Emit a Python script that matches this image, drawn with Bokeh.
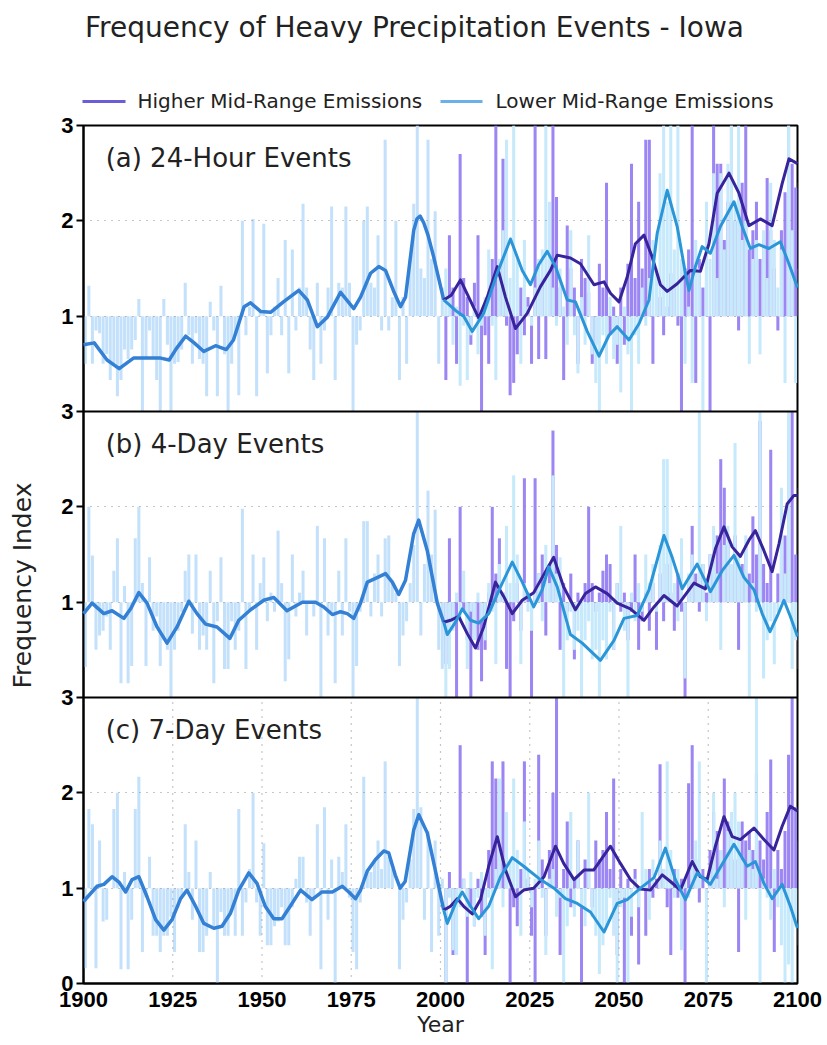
import math
from bokeh.plotting import figure
from bokeh.models import Range1d, FixedTicker, Label, Arrow, ColumnDataSource
from bokeh.layouts import column, row
from bokeh.embed import file_html
from bokeh.resources import INLINE

# ---------------- data ----------------
HIST_YEARS = list(range(1900, 2001))
FUT_YEARS = list(range(2001, 2101))
X_TICKS = [1900, 1925, 1950, 1975, 2000, 2025, 2050, 2075, 2100]

TITLE = "Frequency of Heavy Precipitation Events - Iowa"
SERIES_NAMES = ["Higher Mid-Range Emissions", "Lower Mid-Range Emissions"]
PANEL_NAMES = ["(a) 24-Hour Events", "(b) 4-Day Events", "(c) 7-Day Events"]

# yearly index values, historical 1900-2000
hist_a = [0.50, 1.32, 0.50, 0.85, 0.82, 0.50, 0.60, 0.33, 0.50, 0.16,
          0.33, 0.65, 0.55, 0.65, 0.75, 1.18, 0.00, 0.55, 0.85, 0.55,
          0.33, 0.00, 1.18, 0.70, 0.00, 0.50, 0.52, 0.65, 1.35, 0.80,
          0.50, 0.82, 0.55, 0.50, 0.16, 1.15, 0.85, 0.16, 1.32, 0.60,
          0.00, 0.50, 0.80, 0.17, 2.00, 0.80, 1.10, 2.02, 0.16, 1.05,
          1.97, 0.40, 0.80, 1.10, 1.40, 0.80, 1.80, 0.40, 1.70, 0.85,
          1.30, 2.18, 1.30, 0.65, 0.33, 1.35, 0.50, 0.85, 1.30, 2.15,
          0.33, 1.35, 1.30, 2.15, 1.35, 0.00, 0.70, 0.85, 2.00, 2.15,
          1.35, 1.30, 1.85, 0.85, 2.85, 0.85, 1.20, 2.00, 0.33, 1.20,
          0.50, 1.60, 2.18, 3.20, 1.50, 1.40, 2.85, 1.60, 2.10, 0.50,
          1.30]
hist_b = [0.32, 2.00, 1.49, 0.50, 0.65, 0.70, 0.85, 0.50, 1.33, 1.67,
          0.15, 1.17, 0.15, 0.33, 1.67, 2.00, 1.20, 0.33, 1.47, 0.70,
          0.85, 0.33, 0.60, 0.50, 0.00, 0.50, 0.70, 0.90, 1.33, 1.50,
          0.67, 1.50, 0.50, 0.65, 0.50, 1.33, 0.15, 0.80, 1.47, 0.30,
          0.30, 0.80, 0.50, 0.70, 1.98, 0.30, 0.90, 1.50, 0.50, 1.20,
          1.47, 0.80, 1.10, 0.90, 1.75, 1.20, 0.17, 0.40, 1.50, 0.85,
          1.10, 1.33, 0.65, 1.00, 0.85, 1.80, 0.00, 1.67, 0.65, 0.90,
          0.15, 1.33, 0.65, 1.67, 0.90, 0.00, 0.33, 0.90, 1.85, 1.85,
          0.85, 1.30, 1.50, 0.85, 1.67, 1.70, 1.20, 1.10, 0.33, 0.65,
          0.80, 1.20, 1.60, 3.20, 0.65, 1.40, 2.17, 1.50, 1.97, 0.50,
          0.30]
hist_c = [0.16, 1.83, 1.67, 0.16, 1.50, 0.65, 0.67, 1.00, 1.83, 2.00,
          0.15, 1.17, 0.15, 0.67, 1.83, 2.17, 0.33, 0.90, 1.33, 0.50,
          0.50, 0.33, 0.50, 0.50, 0.70, 0.33, 0.80, 0.90, 1.67, 1.17,
          0.67, 1.50, 0.33, 0.33, 0.50, 1.17, 0.60, 0.00, 0.75, 0.50,
          0.50, 0.80, 0.50, 1.83, 0.50, 0.85, 1.20, 2.00, 0.85, 0.50,
          1.47, 0.40, 0.40, 0.60, 0.65, 0.80, 0.40, 0.40, 0.80, 1.10,
          1.33, 1.33, 0.85, 0.50, 0.90, 1.67, 0.15, 1.85, 0.67, 1.30,
          0.00, 1.33, 1.17, 1.67, 0.90, 0.33, 0.15, 0.85, 2.17, 1.20,
          1.17, 1.30, 1.50, 1.20, 2.33, 1.33, 1.20, 1.00, 0.15, 0.67,
          0.85, 1.30, 1.83, 3.20, 1.85, 0.67, 1.60, 0.33, 1.50, 0.50,
          1.10]

# yearly index values, scenarios 2001-2100
higher_a = [0.33, 1.85, 1.30, 0.50, 2.70, 1.40, 1.20, 0.70, 1.35, 1.85,
            0.00, 0.80, 0.50, 1.60, 3.20, 1.30, 2.65, 0.90, 0.17, 0.30,
            0.60, 1.30, 0.80, 1.20, 0.50, 3.20, 0.55, 1.40, 0.55, 1.60,
            3.20, 2.25, 1.30, 0.33, 1.95, 1.50, 1.30, 0.50, 1.60, 1.40,
            1.25, 0.50, 0.70, 1.55, 1.30, 2.40, 0.80, 1.10, 0.50, 1.30,
            0.70, 1.55, 2.60, 1.40, 2.20, 1.50, 2.85, 2.85, 0.50, 1.40,
            1.20, 0.80, 1.10, 1.45, 1.30, 0.90, 0.00, 1.50, 1.70, 3.20,
            0.30, 1.60, 1.30, 1.50, 0.00, 3.20, 2.60, 2.60, 1.80, 2.20,
            3.20, 2.00, 0.85, 2.40, 3.20, 1.70, 1.90, 2.20, 1.60, 1.80,
            2.45, 1.90, 1.50, 0.85, 1.90, 2.30, 3.20, 2.60, 2.35, 2.40]
lower_a = [1.50, 1.20, 0.70, 1.10, 0.27, 0.90, 0.33, 0.80, 1.10, 0.60,
           0.90, 1.20, 1.70, 0.90, 0.33, 1.60, 1.90, 2.85, 1.40, 3.20,
           1.60, 0.50, 1.80, 1.10, 0.90, 1.30, 1.60, 1.70, 3.20, 2.20,
           1.30, 0.90, 1.50, 1.10, 0.70, 1.90, 0.80, 0.40, 1.20, 0.70,
           1.85, 0.60, 0.30, 0.00, 0.80, 0.50, 1.20, 0.55, 0.70, 0.20,
           1.10, 0.60, 0.00, 0.80, 0.50, 1.30, 0.90, 1.40, 1.80, 1.50,
           2.50, 3.20, 2.20, 3.20, 1.70, 3.20, 1.60, 0.50, 1.10, 0.30,
           1.80, 1.50, 0.00, 2.20, 1.60, 2.50, 1.40, 2.50, 1.70, 2.60,
           3.20, 2.20, 3.20, 1.80, 2.00, 0.50, 1.60, 1.80, 0.60, 1.90,
           1.40, 2.40, 1.80, 1.30, 1.70, 0.30, 3.20, 1.90, 0.30, 1.50]
higher_b = [0.35, 1.67, 0.80, 0.00, 2.00, 0.90, 0.60, 0.00, 0.70, 0.50,
            0.17, 0.50, 1.10, 2.00, 1.30, 1.67, 1.10, 0.30, 0.00, 0.80,
            1.20, 0.70, 2.30, 1.10, 0.00, 2.30, 1.30, 1.50, 0.65, 1.40,
            2.80, 1.60, 0.50, 1.20, 0.90, 1.30, 0.40, 1.10, 0.35, 1.20,
            2.00, 1.20, 0.90, 1.10, 1.33, 1.50, 1.40, 0.50, 1.20, 0.90,
            1.10, 0.60, 0.90, 1.50, 0.50, 0.80, 1.10, 0.70, 1.20, 0.50,
            1.30, 0.80, 1.40, 1.10, 0.70, 1.30, 0.90, 0.00, 1.20, 1.80,
            1.30, 0.90, 1.40, 1.10, 1.50, 1.30, 1.70, 2.50, 2.20, 1.60,
            1.30, 1.70, 0.50, 1.40, 1.60, 1.30, 1.90, 1.50, 2.90, 1.40,
            1.20, 2.60, 1.00, 1.30, 1.50, 1.70, 2.70, 3.20, 1.50, 2.20]
lower_b = [0.00, 0.30, 0.70, 1.10, 0.80, 1.33, 0.30, 0.90, 0.60, 1.10,
           0.80, 0.60, 1.20, 0.90, 0.35, 1.40, 1.10, 1.80, 1.20, 2.33,
           1.50, 0.35, 1.20, 0.90, 0.70, 1.10, 1.30, 0.80, 1.60, 1.20,
           2.33, 1.30, 1.47, 0.00, 0.60, 0.90, 0.50, 0.70, 0.00, 0.60,
           0.80, 0.40, 0.50, 0.00, 0.60, 0.40, 0.90, 0.50, 1.20, 1.80,
           0.70, 0.00, 1.10, 0.80, 1.20, 0.90, 1.50, 1.20, 1.40, 0.90,
           1.60, 2.50, 2.50, 1.50, 1.20, 0.80, 1.67, 0.20, 1.30, 1.50,
           1.20, 3.20, 1.40, 0.80, 1.50, 1.80, 1.30, 0.50, 1.60, 1.80,
           1.40, 2.67, 1.50, 1.30, 1.70, 0.00, 1.20, 0.90, 3.20, 0.20,
           0.60, 0.80, 0.35, 0.90, 2.20, 1.30, 3.20, 0.30, 0.60, 0.30]
higher_c = [0.00, 1.17, 0.30, 0.90, 2.50, 1.10, 0.00, 0.80, 0.60, 1.10,
            0.70, 0.30, 1.40, 2.33, 2.15, 1.30, 2.33, 1.20, 0.00, 0.80,
            0.60, 1.20, 2.33, 1.10, 0.50, 0.00, 2.40, 1.30, 0.50, 1.40,
            2.00, 3.20, 0.30, 1.20, 1.70, 0.80, 1.10, 1.50, 0.00, 1.30,
            1.20, 0.80, 1.50, 1.30, 1.40, 1.80, 1.20, 2.15, 0.30, 1.20,
            0.00, 1.10, 0.50, 1.20, 0.20, 1.00, 0.50, 1.20, 0.90, 1.10,
            2.30, 1.20, 0.80, 0.30, 1.20, 0.90, 1.10, 0.00, 2.10, 2.50,
            1.30, 0.85, 1.20, 0.90, 1.40, 1.80, 1.60, 1.40, 2.15, 1.70,
            1.50, 1.30, 0.33, 1.70, 1.50, 1.60, 1.40, 2.20, 1.50, 1.30,
            1.80, 2.35, 0.33, 1.40, 1.20, 1.60, 2.40, 3.20, 1.85, 1.50]
lower_c = [0.00, 0.90, 0.35, 0.30, 0.80, 1.10, 0.70, 1.17, 0.60, 0.90,
           1.17, 0.50, 0.90, 0.15, 1.20, 2.15, 0.80, 1.80, 1.30, 2.15,
           1.40, 0.50, 1.70, 1.20, 0.80, 1.10, 1.50, 0.90, 0.30, 1.10,
           1.20, 0.70, 0.90, 0.00, 0.60, 1.80, 0.70, 1.50, 0.80, 0.60,
           2.00, 0.70, 0.50, 0.10, 0.40, 0.60, 0.90, 0.50, 0.00, 0.80,
           0.90, 0.00, 0.70, 1.10, 0.80, 1.80, 1.20, 0.67, 1.30, 1.00,
           1.50, 1.20, 2.33, 1.40, 0.90, 1.20, 0.35, 1.10, 0.90, 1.30,
           1.50, 2.33, 1.00, 0.00, 1.20, 2.00, 1.10, 1.40, 0.80, 1.60,
           1.80, 2.00, 1.70, 1.30, 0.67, 1.40, 1.20, 3.20, 0.00, 1.10,
           0.90, 0.67, 1.20, 0.80, 0.40, 0.00, 0.20, 0.00, 0.60, 0.40]

# smoothed curves (year, value)
hist_line_a_x = [1900, 1903, 1906.6, 1910, 1914, 1918, 1921.6, 1924, 1926, 1928.6, 1931, 1933.7, 1937,
                 1940, 1942, 1945, 1946.8, 1949.6, 1952.4, 1956, 1960.3, 1962.7, 1965.5, 1968.3, 1972,
                 1975.7, 1977.6, 1980.4, 1982.7, 1984.6, 1987, 1988.8, 1990.2, 1992.5, 1993.4, 1994.3,
                 1995.3, 1996.5, 1998.1, 2000.9]
hist_line_a_y = [0.70, 0.72, 0.54, 0.45, 0.56, 0.56, 0.56, 0.54, 0.66, 0.79, 0.72, 0.63, 0.69,
                 0.65, 0.75, 1.10, 1.14, 1.05, 1.04, 1.15, 1.27, 1.17, 0.89, 0.99, 1.25,
                 1.08, 1.20, 1.45, 1.52, 1.48, 1.25, 1.10, 1.20, 1.90, 2.02, 2.05,
                 1.98, 1.85, 1.62, 1.17]
higher_line_a_x = [2000.9, 2003, 2005.6, 2007.9, 2010.7, 2013.1, 2015.9, 2018.2, 2021, 2024.3, 2028,
                   2030.8, 2032.7, 2036.4, 2039.2, 2043, 2045.8, 2047.6, 2050, 2052.3, 2054.6, 2057,
                   2059.3, 2061.6, 2063.5, 2066.3, 2070, 2072.8, 2075.2, 2077.5, 2080.8, 2083.6,
                   2086.4, 2089.6, 2092.9, 2095.7, 2097.6, 2100]
higher_line_a_y = [1.17, 1.22, 1.38, 1.20, 0.98, 1.20, 1.52, 1.20, 0.87, 1.03, 1.31,
                   1.48, 1.64, 1.61, 1.55, 1.33, 1.36, 1.24, 1.15, 1.41, 1.76, 1.85,
                   1.62, 1.33, 1.26, 1.34, 1.48, 1.47, 1.76, 2.29, 2.50, 2.29,
                   1.95, 2.02, 1.95, 2.39, 2.65, 2.60]
lower_line_a_x = [2000.9, 2004.2, 2006.5, 2008.9, 2012.1, 2015.9, 2019.6, 2022.9, 2025.2, 2027.5,
                  2029.9, 2032.2, 2035.5, 2037.8, 2041.1, 2044.4, 2047.2, 2049.5, 2052.8, 2055.6,
                  2058.4, 2060.7, 2063.5, 2066.3, 2068.6, 2069.6, 2071.4, 2073.3, 2075.6, 2078.4,
                  2082.2, 2084.5, 2086.8, 2089.2, 2092, 2095.2, 2097.6, 2100]
lower_line_a_y = [1.17, 1.06, 1.00, 0.84, 1.03, 1.45, 1.81, 1.48, 1.33, 1.54,
                  1.68, 1.52, 1.17, 1.15, 0.84, 0.58, 0.80, 0.89, 0.75, 0.92,
                  1.17, 1.87, 2.32, 1.94, 1.45, 1.27, 1.52, 1.73, 1.66, 1.94,
                  2.20, 1.94, 1.71, 1.75, 1.71, 1.78, 1.55, 1.30]

hist_line_b_x = [1900, 1902.4, 1905.7, 1908, 1911.3, 1913.2, 1915.5, 1917.8, 1920.6, 1923.4, 1926.2,
                 1929.5, 1931.8, 1934.2, 1937.4, 1941, 1943.5, 1946.8, 1950.5, 1953.3, 1957, 1961.3,
                 1965, 1967.3, 1969.7, 1972, 1973.9, 1975.7, 1977.6, 1979.5, 1981.8, 1984.6, 1986.5,
                 1988.3, 1990.2, 1992.5, 1993.9, 1996.3, 1999.1, 2000.9]
hist_line_b_y = [0.88, 0.99, 0.88, 0.91, 0.83, 0.93, 1.10, 0.99, 0.74, 0.57, 0.74,
                 1.01, 0.88, 0.77, 0.74, 0.62, 0.81, 0.92, 1.02, 1.05, 0.91, 1.00,
                 1.00, 0.95, 0.87, 0.90, 0.88, 0.83, 0.99, 1.21, 1.25, 1.30, 1.21,
                 1.08, 1.23, 1.72, 1.86, 1.54, 0.99, 0.79]
higher_line_b_x = [2000.9, 2002.8, 2005.1, 2007.5, 2009.8, 2012.1, 2015.4, 2017.7, 2020.1, 2022.9,
                   2026.1, 2028.5, 2031.7, 2034.5, 2037.8, 2040.6, 2043.4, 2046.7, 2049.5, 2053.2,
                   2057, 2059.8, 2062.6, 2066.3, 2071, 2074.2, 2077, 2079.4, 2081.7, 2084, 2086.4,
                   2088.2, 2090.6, 2092.9, 2094.8, 2097.1, 2099, 2100]
higher_line_b_y = [0.79, 0.81, 0.85, 0.67, 0.52, 0.74, 1.21, 1.06, 0.88, 1.02,
                   1.10, 1.26, 1.47, 1.16, 0.92, 1.09, 1.16, 1.09, 0.99, 0.93,
                   0.81, 0.95, 1.07, 0.96, 1.20, 1.14, 1.56, 1.79, 1.58, 1.48, 1.65,
                   1.75, 1.54, 1.32, 1.61, 2.03, 2.12, 2.12]
lower_line_b_x = [2000.9, 2001.9, 2004.2, 2006.1, 2008.4, 2010.7, 2013.5, 2016.8, 2020.1, 2022.9,
                  2026.1, 2028.5, 2030.3, 2032.7, 2036.4, 2039.7, 2044.8, 2048.6, 2051.4, 2055.1,
                  2058.4, 2062.6, 2064.9, 2067.7, 2071.9, 2075.6, 2078.9, 2082.2, 2085, 2087.8,
                  2090.1, 2092.3, 2094.3, 2096.2, 2098, 2100]
lower_line_b_y = [0.79, 0.66, 0.79, 0.93, 0.81, 0.78, 0.88, 1.16, 1.42, 1.21,
                  0.95, 1.13, 1.37, 1.16, 0.66, 0.57, 0.39, 0.60, 0.83, 0.86,
                  1.13, 1.70, 1.47, 1.14, 1.40, 1.11, 1.33, 1.49, 1.26, 1.13,
                  0.88, 0.69, 0.85, 1.02, 0.85, 0.64]

hist_line_c_x = [1900, 1903.8, 1905.7, 1908, 1910, 1911.8, 1913.6, 1915.5, 1917.8, 1920.2, 1922.5,
                 1924.8, 1927.2, 1929, 1931.4, 1933.7, 1936.5, 1938.8, 1941.2, 1943.5, 1946.3, 1948.6,
                 1950.9, 1953.3, 1955.6, 1957.9, 1960.8, 1964, 1966.8, 1969.7, 1972.5, 1974.3, 1976.2,
                 1977.6, 1979.5, 1981.8, 1984.1, 1985.5, 1987.3, 1988.7, 1990.1, 1992.5, 1993.9,
                 1996.3, 1998.6, 2000.9]
hist_line_c_y = [0.86, 1.02, 1.04, 1.12, 1.06, 0.96, 1.09, 1.12, 0.91, 0.67, 0.56,
                 0.67, 0.89, 0.98, 0.81, 0.63, 0.58, 0.60, 0.74, 0.98, 1.16, 1.05,
                 0.81, 0.68, 0.68, 0.81, 0.98, 0.88, 0.96, 0.96, 1.02, 0.96, 0.89,
                 0.98, 1.18, 1.30, 1.39, 1.37, 1.14, 1.00, 1.07, 1.61, 1.77,
                 1.58, 1.18, 0.77]
higher_line_c_x = [2000.9, 2002.8, 2004.7, 2006.5, 2008.9, 2011.2, 2013.5, 2015.9, 2018.2, 2021,
                   2023.3, 2026.1, 2029, 2032.2, 2034.5, 2037.4, 2040.2, 2042.9, 2047.6, 2050.4,
                   2053.2, 2056, 2058.8, 2062.1, 2064.4, 2067.2, 2070.5, 2072.8, 2074.7, 2077,
                   2079.4, 2081.7, 2084, 2087.8, 2090.6, 2093.4, 2095.7, 2098, 2100]
higher_line_c_y = [0.77, 0.81, 0.89, 0.81, 0.73, 0.88, 1.23, 1.54, 1.19, 0.91,
                   0.98, 1.00, 1.12, 1.44, 1.26, 1.09, 1.19, 1.19, 1.44, 1.26,
                   1.09, 0.99, 0.98, 1.14, 1.07, 0.98, 1.28, 1.12, 1.09, 1.44,
                   1.75, 1.54, 1.51, 1.63, 1.51, 1.40, 1.65, 1.86, 1.81]
lower_line_c_x = [2000.9, 2001.9, 2004.2, 2006.1, 2008.4, 2010.7, 2013.5, 2016.8, 2020.1, 2023.3,
                  2028, 2031.8, 2035, 2038.3, 2042, 2045.8, 2049.5, 2052.3, 2056, 2059.8,
                  2063, 2065.8, 2068.6, 2071.9, 2075.6, 2078.9, 2082.2, 2085.9, 2088.2, 2090.6,
                  2092.9, 2095.7, 2098, 2100]
lower_line_c_y = [0.77, 0.63, 0.84, 0.96, 0.81, 0.68, 0.81, 1.12, 1.32, 1.23,
                  1.09, 1.00, 0.89, 0.84, 0.75, 0.54, 0.84, 0.88, 1.00, 1.11,
                  1.42, 1.09, 0.88, 1.16, 1.04, 1.25, 1.46, 1.23, 1.28, 1.05,
                  0.89, 1.04, 0.81, 0.58]

# ---------------- styling ----------------
C_BAR_LIGHT = "#c4e1fb"
C_BAR_LOWER = "#c6e9fb"
C_BAR_PURPLE = "#9c86f4"
C_LINE_HIST = "#3380d4"
C_LINE_HIGH = "#37239a"
C_LINE_LOW = "#2a96d8"
C_LEG_HIGH = "#6b5dd6"
C_LEG_LOW = "#6cb0ea"
C_GRID = "#8c8c8c"
TXT = "#222222"
FONT = "DejaVu Sans"
TICK_FONT = "Liberation Sans"

HEADER_H = 112
YLAB_W = 40
FRAME_W = 714
PANEL_H = 286
MAIN_TOP = 13
MAIN_BOTTOM = 61
MAIN_LEFT = 43
MAIN_RIGHT = 28
MAIN_H = MAIN_TOP + 3 * PANEL_H + MAIN_BOTTOM
TOTAL_W = YLAB_W + MAIN_LEFT + FRAME_W + MAIN_RIGHT
FRAME_TOP = HEADER_H + MAIN_TOP              # page y of the panels' top edge
FRAME_BOTTOM = FRAME_TOP + 3 * PANEL_H       # page y of the panels' bottom edge

# ---------------- main figure: three stacked panels ----------------
# default y range = panel (c); panels (b) and (a) use their own 0-3 ranges
main = figure(frame_width=FRAME_W, frame_height=3 * PANEL_H,
              x_range=Range1d(1900, 2100), y_range=Range1d(0, 9),
              output_backend="svg", toolbar_location=None,
              min_border_left=MAIN_LEFT, min_border_right=MAIN_RIGHT,
              min_border_top=MAIN_TOP, min_border_bottom=MAIN_BOTTOM)
main.extra_y_ranges = {"a": Range1d(-6, 3), "b": Range1d(-3, 6)}
main.background_fill_color = "white"
main.border_fill_color = "white"
main.outline_line_color = "black"
main.outline_line_width = 2
main.xgrid.visible = False
main.ygrid.visible = False

panels = [
    ("a", PANEL_NAMES[0], hist_a, higher_a, lower_a,
     (hist_line_a_x, hist_line_a_y), (higher_line_a_x, higher_line_a_y), (lower_line_a_x, lower_line_a_y)),
    ("b", PANEL_NAMES[1], hist_b, higher_b, lower_b,
     (hist_line_b_x, hist_line_b_y), (higher_line_b_x, higher_line_b_y), (lower_line_b_x, lower_line_b_y)),
    ("default", PANEL_NAMES[2], hist_c, higher_c, lower_c,
     (hist_line_c_x, hist_line_c_y), (higher_line_c_x, higher_line_c_y), (lower_line_c_x, lower_line_c_y)),
]


def clip(vals):
    return [min(v, 3.0) for v in vals]


for rng, name, hist, hi, lo, hl, hil, lol in panels:
    src_h = ColumnDataSource(dict(x=[y + 0.5 for y in HIST_YEARS], top=clip(hist)))
    src_hi = ColumnDataSource(dict(x=[y + 0.5 for y in FUT_YEARS], top=clip(hi)))
    src_lo = ColumnDataSource(dict(x=[y + 0.5 for y in FUT_YEARS], top=clip(lo)))
    for src, col in ((src_h, C_BAR_LIGHT), (src_hi, C_BAR_PURPLE), (src_lo, C_BAR_LOWER)):
        main.vbar(x="x", width=0.85, bottom=1, top="top", source=src,
                  fill_color=col, line_color=None, level="underlay", y_range_name=rng)
    # dotted horizontal grid at 1 and 2
    main.hspan(y=[1, 2], line_color=C_GRID, line_dash="1 6", line_width=1.2,
               level="glyph", y_range_name=rng)
    main.line(hl[0], hl[1], line_color=C_LINE_HIST, line_width=3.5, level="overlay",
              line_join="round", y_range_name=rng)
    main.line(hil[0], hil[1], line_color=C_LINE_HIGH, line_width=3, level="overlay",
              line_join="round", y_range_name=rng)
    main.line(lol[0], lol[1], line_color=C_LINE_LOW, line_width=3, level="overlay",
              line_join="round", y_range_name=rng)
    # panel title
    main.add_layout(Label(x=1906.2, y=2.66, text=name, text_font=FONT, text_font_size="26px",
                          text_color=TXT, text_baseline="middle", text_align="left",
                          y_range_name=rng))

# dotted vertical grid only inside panel (c)
main.segment(x0=X_TICKS[1:-1], x1=X_TICKS[1:-1], y0=0, y1=3, line_color=C_GRID,
             line_dash="1 6", line_width=1.2, level="glyph")
# panel separators (top edge of panels b and c)
main.hspan(y=[3], line_color="black", line_width=2, level="overlay", y_range_name="b")
main.hspan(y=[3], line_color="black", line_width=2, level="overlay")

ya = main.yaxis[0]
ya.ticker = FixedTicker(ticks=[0, 1, 2, 3, 4, 5, 6, 7, 8, 9])
ya.major_label_overrides = {0: "0", 1: "1", 2: "2", 3: "3", 4: "1", 5: "2",
                            6: "3", 7: "1", 8: "2", 9: "3"}
ya.axis_line_width = 2
ya.axis_line_color = "black"
ya.major_tick_line_width = 2
ya.major_tick_out = 7
ya.major_tick_in = 0
ya.minor_tick_out = 0
ya.minor_tick_in = 0
ya.major_label_standoff = 3
ya.major_label_text_font = TICK_FONT
ya.major_label_text_font_style = "bold"
ya.major_label_text_font_size = "22px"
ya.major_label_text_color = "black"

xa = main.xaxis[0]
xa.ticker = FixedTicker(ticks=X_TICKS)
xa.axis_line_width = 2
xa.axis_line_color = "black"
xa.major_tick_out = 0
xa.major_tick_in = 0
xa.minor_tick_out = 0
xa.minor_tick_in = 0
xa.major_label_standoff = 8
xa.major_label_text_font = TICK_FONT
xa.major_label_text_font_style = "bold"
xa.major_label_text_font_size = "22px"
xa.major_label_text_color = "black"
xa.axis_label = "Year"
xa.axis_label_standoff = 2
xa.axis_label_text_font = FONT
xa.axis_label_text_font_style = "normal"
xa.axis_label_text_font_size = "22px"
xa.axis_label_text_color = TXT


def blank(width, height):
    f = figure(width=width, height=height, x_range=Range1d(0, 1), y_range=Range1d(0, 1),
               output_backend="svg", toolbar_location=None,
               x_axis_location=None, y_axis_location=None, min_border=0)
    f.outline_line_color = None
    f.xgrid.visible = False
    f.ygrid.visible = False
    f.background_fill_color = "white"
    f.border_fill_color = "white"
    return f


# ---------------- header: title and legend ----------------
header = blank(TOTAL_W, HEADER_H)
header.add_layout(Label(x=414, y=HEADER_H - 27, x_units="screen", y_units="screen",
                        text=TITLE, text_font=FONT, text_font_size="28px",
                        text_color=TXT, text_align="center", text_baseline="middle"))
leg_text_y = HEADER_H - 100
leg_line_y = HEADER_H - 101
header.add_layout(Arrow(start=None, end=None, x_start=82, y_start=leg_line_y, x_end=125, y_end=leg_line_y,
                        start_units="screen", end_units="screen",
                        line_color=C_LEG_HIGH, line_width=3))
header.add_layout(Label(x=137, y=leg_text_y, x_units="screen", y_units="screen",
                        text=SERIES_NAMES[0], text_font=FONT, text_font_size="20px",
                        text_color=TXT, text_align="left", text_baseline="middle"))
header.add_layout(Arrow(start=None, end=None, x_start=440, y_start=leg_line_y, x_end=482, y_end=leg_line_y,
                        start_units="screen", end_units="screen",
                        line_color=C_LEG_LOW, line_width=3))
header.add_layout(Label(x=495, y=leg_text_y, x_units="screen", y_units="screen",
                        text=SERIES_NAMES[1], text_font=FONT, text_font_size="20px",
                        text_color=TXT, text_align="left", text_baseline="middle"))

# ---------------- y axis title strip (its frame is aligned with the panels) ----------------
ylab = blank(YLAB_W, MAIN_H)
ylab.add_layout(Label(x=22, y=FRAME_BOTTOM - 585, x_units="screen", y_units="screen",
                      text="Frequency Index", text_font=FONT, text_font_size="25px",
                      text_color=TXT, text_align="center", text_baseline="middle",
                      angle=math.pi / 2))

layout = column(header, row(ylab, main, spacing=0), spacing=0)
open("out.html", "w").write(file_html(layout, INLINE))
